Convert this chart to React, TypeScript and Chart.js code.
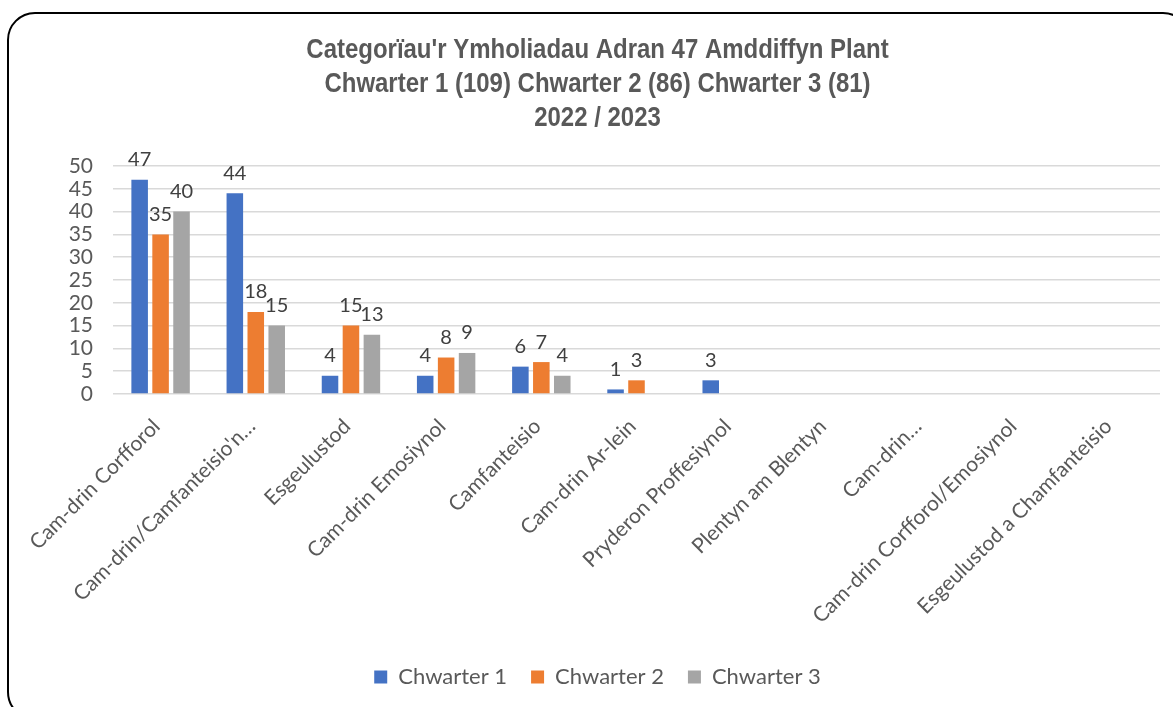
import React, { useEffect, useRef } from "react";
import { Chart, registerables } from "chart.js";

Chart.register(...registerables);

const categories = [
  "Cam-drin Corfforol",
  "Cam-drin/Camfanteisio'n…",
  "Esgeulustod",
  "Cam-drin Emosiynol",
  "Camfanteisio",
  "Cam-drin Ar-lein",
  "Pryderon Proffesiynol",
  "Plentyn am Blentyn",
  "Cam-drin…",
  "Cam-drin Corfforol/Emosiynol",
  "Esgeulustod a Chamfanteisio",
];

const seriesNames = ["Chwarter 1", "Chwarter 2", "Chwarter 3"];
const quarter1 = [47, 44, 4, 4, 6, 1, 3, null, null, null, null];
const quarter2 = [35, 18, 15, 8, 7, 3, null, null, null, null, null];
const quarter3 = [40, 15, 13, 9, 4, null, null, null, null, null, null];
const seriesColors = ["#4472C4", "#ED7D31", "#A5A5A5"];

const titleLines = [
  "Categorïau'r Ymholiadau Adran 47 Amddiffyn Plant",
  "Chwarter 1 (109) Chwarter 2 (86) Chwarter 3 (81)",
  "2022 / 2023",
];

const yTicks = { min: 0, max: 50, step: 5 };

const TITLE_SIZE = 28;
const TITLE_LINE = 34;

const valueLabels = {
  id: "valueLabels",
  afterDatasetsDraw(chart: any) {
    const ctx = chart.ctx;
    ctx.save();
    ctx.font = "20px Lato";
    ctx.fillStyle = "#404040";
    ctx.textAlign = "center";
    ctx.textBaseline = "bottom";
    chart.data.datasets.forEach((ds: any, i: number) => {
      const meta = chart.getDatasetMeta(i);
      meta.data.forEach((el: any, j: number) => {
        const v = ds.data[j];
        if (v === null || v === undefined) return;
        ctx.fillText(String(v), el.x, el.y - 10);
      });
    });
    ctx.restore();
  },
};

// Narrow bold title (condensed by horizontal scaling), placed in the title block's space
const narrowTitle = {
  id: "narrowTitle",
  afterDraw(chart: any) {
    const tb = chart.titleBlock;
    if (!tb) return;
    const ctx = chart.ctx;
    const cx = (tb.left + tb.right) / 2;
    ctx.save();
    ctx.font = `bold ${TITLE_SIZE}px 'Liberation Sans', Arial`;
    ctx.fillStyle = "#595959";
    ctx.textAlign = "center";
    ctx.textBaseline = "middle";
    titleLines.forEach((line, i) => {
      ctx.save();
      ctx.translate(cx, tb.top + TITLE_LINE / 2 + TITLE_LINE * i);
      ctx.scale(0.856, 1);
      ctx.fillText(line, 0, 0);
      ctx.restore();
    });
    ctx.restore();
  },
};

export default function App() {
  const ref = useRef<HTMLCanvasElement | null>(null);
  useEffect(() => {
    if (!ref.current) return;
    const chart = new Chart(ref.current, {
      type: "bar",
      data: {
        labels: categories,
        datasets: [quarter1, quarter2, quarter3].map((d, i) => ({
          label: seriesNames[i],
          data: d,
          backgroundColor: seriesColors[i],
          categoryPercentage: 0.66,
          barPercentage: 0.79,
        })),
      },
      options: {
        animation: false,
        responsive: false,
        layout: { padding: { left: 35, right: 13, top: 33, bottom: 9 } },
        plugins: {
          title: {
            display: true,
            text: titleLines,
            color: "rgba(0,0,0,0)",
            font: { family: "'Liberation Sans', Arial", size: TITLE_SIZE, weight: "bold", lineHeight: TITLE_LINE / TITLE_SIZE },
            padding: { top: 0, bottom: 31 },
          },
          legend: {
            position: "bottom",
            labels: {
              color: "#595959",
              font: { family: "Lato", size: 22 },
              boxWidth: 13,
              boxHeight: 13,
              padding: 24,
            },
          },
          tooltip: { enabled: false },
        },
        scales: {
          x: {
            grid: { display: false },
            border: { display: false },
            ticks: {
              color: "#595959",
              font: { family: "Lato", size: 21 },
              maxRotation: 45,
              minRotation: 45,
              autoSkip: false,
              padding: 12,
              labelOffset: -4,
            },
            afterFit(scale: any) {
              scale.height = 248;
            },
          },
          y: {
            min: yTicks.min,
            max: yTicks.max,
            grid: { color: "#D9D9D9", lineWidth: 1.5, drawTicks: false },
            border: { display: false },
            ticks: {
              stepSize: yTicks.step,
              autoSkip: false,
              color: "#595959",
              font: { family: "Lato", size: 21 },
              padding: 20,
            },
            afterFit(scale: any) {
              scale.width = 78;
            },
          },
        },
      },
      plugins: [valueLabels, narrowTitle],
    });
    return () => chart.destroy();
  }, []);

  return (
    <div style={{ position: "fixed", left: 0, top: 0, width: 1173, height: 707, overflow: "hidden", background: "#fff" }}>
      <div
        style={{
          position: "absolute",
          left: 7,
          top: 12,
          width: 1184,
          height: 708,
          border: "2px solid #000",
          borderRadius: 28,
          boxSizing: "border-box",
        }}
      />
      <canvas ref={ref} width={1173} height={707} style={{ position: "absolute", left: 0, top: 0, width: 1173, height: 707 }} />
    </div>
  );
}
